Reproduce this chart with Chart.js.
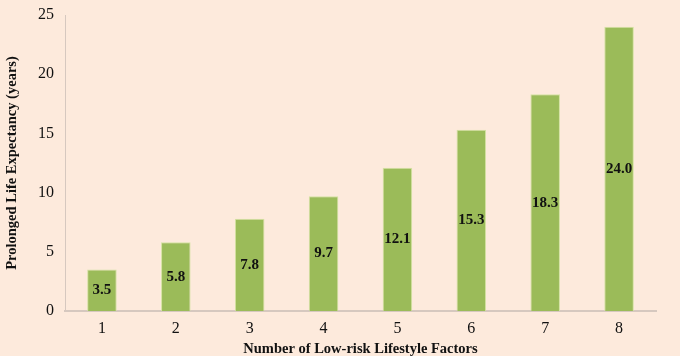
<!DOCTYPE html>
<html>
<head>
<meta charset="utf-8">
<script src="https://cdn.jsdelivr.net/npm/chart.js@4/dist/chart.umd.min.js"></script>
<style>
  html, body { margin: 0; padding: 0; background: #fdeadc; }
  #wrap { width: 680px; height: 356px; position: relative; }
</style>
</head>
<body>
<div id="wrap"><canvas id="c" width="680" height="356"></canvas></div>
<script>
const categories = ["1", "2", "3", "4", "5", "6", "7", "8"];
const lifeYears = [3.5, 5.8, 7.8, 9.7, 12.1, 15.3, 18.3, 24.0];
const yTitle = "Prolonged Life Expectancy (years)";
const xTitle = "Number of Low-risk Lifestyle Factors";

const SERIF = '"Liberation Serif", "Times New Roman", serif';

const barLabels = {
  id: 'barLabels',
  afterDatasetsDraw(chart) {
    const ctx = chart.ctx;
    const meta = chart.getDatasetMeta(0);
    ctx.save();
    ctx.font = 'bold 15px ' + SERIF;
    ctx.fillStyle = '#111';
    ctx.textAlign = 'center';
    ctx.textBaseline = 'middle';
    meta.data.forEach((bar, i) => {
      const v = chart.data.datasets[0].data[i];
      ctx.fillText(v.toFixed(1), bar.x, (bar.y + bar.base) / 2);
    });
    ctx.restore();
  }
};

new Chart(document.getElementById('c'), {
  type: 'bar',
  data: {
    labels: categories,
    datasets: [{
      data: lifeYears,
      backgroundColor: '#9bbb59',
      borderColor: '#d4e2a2',
      borderWidth: 1,
      categoryPercentage: 0.8,
      barPercentage: 0.5
    }]
  },
  options: {
    responsive: false,
    animation: false,
    layout: { padding: { top: 15, right: 24, left: 0, bottom: 0 } },
    plugins: { legend: { display: false }, tooltip: { enabled: false } },
    scales: {
      x: {
        grid: { display: false, drawTicks: false },
        border: { display: true, color: '#d6c8bf', width: 2 },
        ticks: { color: '#111', font: { family: SERIF, size: 16 }, padding: 8 },
        title: { display: true, text: xTitle, color: '#111',
                 font: { family: SERIF, size: 14.5, weight: 'bold' },
                 padding: { top: 0, bottom: -2 } },
        afterFit(s) { s.height = 45; s.paddingLeft = 0; s.paddingRight = 0; }
      },
      y: {
        min: 0, max: 25,
        grid: { display: false, drawTicks: false },
        border: { display: true, color: '#d6c8bf', width: 1 },
        ticks: { stepSize: 5, color: '#111', font: { family: SERIF, size: 16 }, padding: 11 },
        title: { display: true, text: yTitle, color: '#111',
                 font: { family: SERIF, size: 14.5, weight: 'bold' },
                 padding: { top: 4, bottom: 0 } },
        afterFit(s) { s.width = 65; s.paddingTop = 0; s.paddingBottom = 0; }
      }
    }
  },
  plugins: [barLabels]
});
</script>
</body>
</html>
